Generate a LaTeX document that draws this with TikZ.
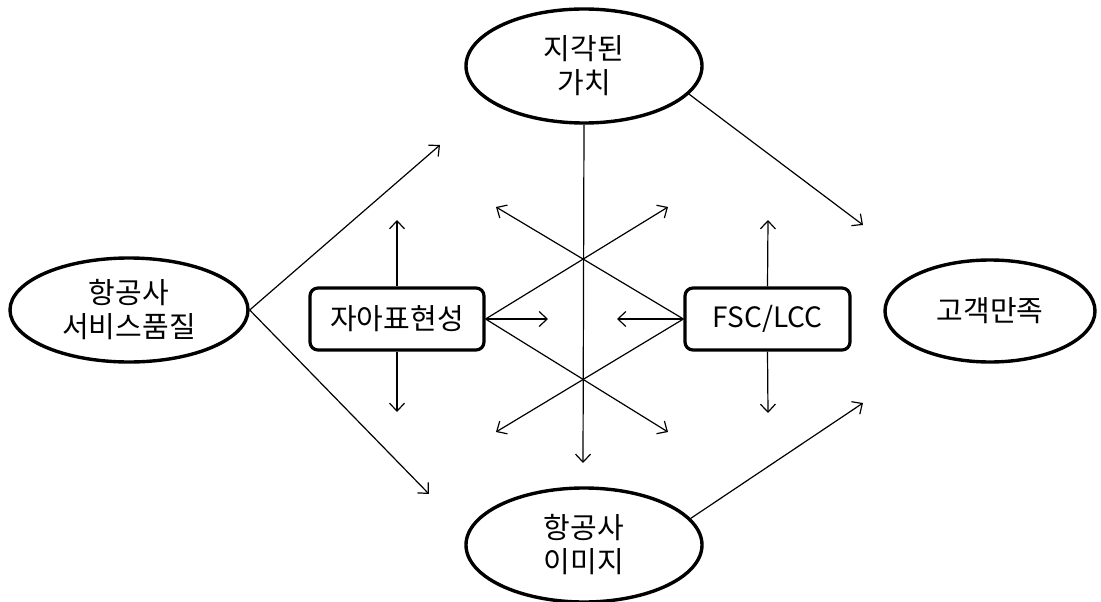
\documentclass[tikz,border=0pt]{standalone}
\usepackage{fontspec}
\setmainfont{Noto Sans CJK KR}
\usetikzlibrary{shapes.geometric,arrows.meta}
\begin{document}
\begin{tikzpicture}[x=1pt,y=-1pt,
  ell/.style={ellipse,draw,line width=3.4pt,inner sep=0pt,align=center,
    minimum width=236pt,minimum height=114pt,font=\fontsize{29}{34}\selectfont},
  box/.style={draw,rounded corners=8pt,line width=3.2pt,inner sep=0pt,
    minimum height=62pt,font=\fontsize{29}{34}\selectfont},
  conn/.style={line width=1.2pt,-{Straight Barb[length=8pt,width=15pt]}},
  plainline/.style={line width=1.2pt}]
\useasboundingbox (0,0) rectangle (1101,602);
% nodes
\node[ell] (pv) at (584,66) {지각된\\가치};
\node[ell,minimum width=238pt,minimum height=104pt] (sq) at (129,310) {항공사\\서비스품질};
\node[ell,minimum width=210pt,minimum height=102pt] (cs) at (990,311) {고객만족};
\node[ell] (pi) at (584,545) {항공사\\이미지};
\node[box,minimum width=174pt] (self) at (397,319) {자아표현성};
\node[box,minimum width=165pt,font=\fontsize{28}{34}\selectfont] (fsc) at (767.5,319) {FSC/LCC};
% free ends
\coordinate (sqUp) at (440,145);
\coordinate (sqDn) at (429,494);
\coordinate (pvEnd) at (863,225);
\coordinate (piEnd) at (863,403);
\coordinate (vEnd) at (583,463);
\coordinate (sUp) at (397,220);
\coordinate (sDn) at (397,412);
\coordinate (sR) at (548,319);
\coordinate (sUR) at (668,207);
\coordinate (sDR) at (668,432);
\coordinate (fUp) at (768,220);
\coordinate (fDn) at (768,413);
\coordinate (fL) at (617,319);
\coordinate (fUL) at (496,207);
\coordinate (fDL) at (496,432);
% connectors
\draw[conn] (sq.east) -- (sqUp);
\draw[conn] (sq.east) -- (sqDn);
\draw[conn] (pv.-15) -- (pvEnd);
\draw[conn] (pi.14) -- (piEnd);
\draw[conn] (pv.south) -- (vEnd);
\draw[conn] (self.north) -- (sUp);
\draw[conn] (self.south) -- (sDn);
\draw[conn] (self.east) -- (sR);
\draw[conn] (self.east) -- (sUR);
\draw[conn] (self.east) -- (sDR);
\draw[conn] (fsc.north) -- (fUp);
\draw[conn] (fsc.south) -- (fDn);
\draw[conn] (fsc.west) -- (fL);
\draw[conn] (fsc.west) -- (fUL);
\draw[conn] (fsc.west) -- (fDL);
\end{tikzpicture}
\end{document}
